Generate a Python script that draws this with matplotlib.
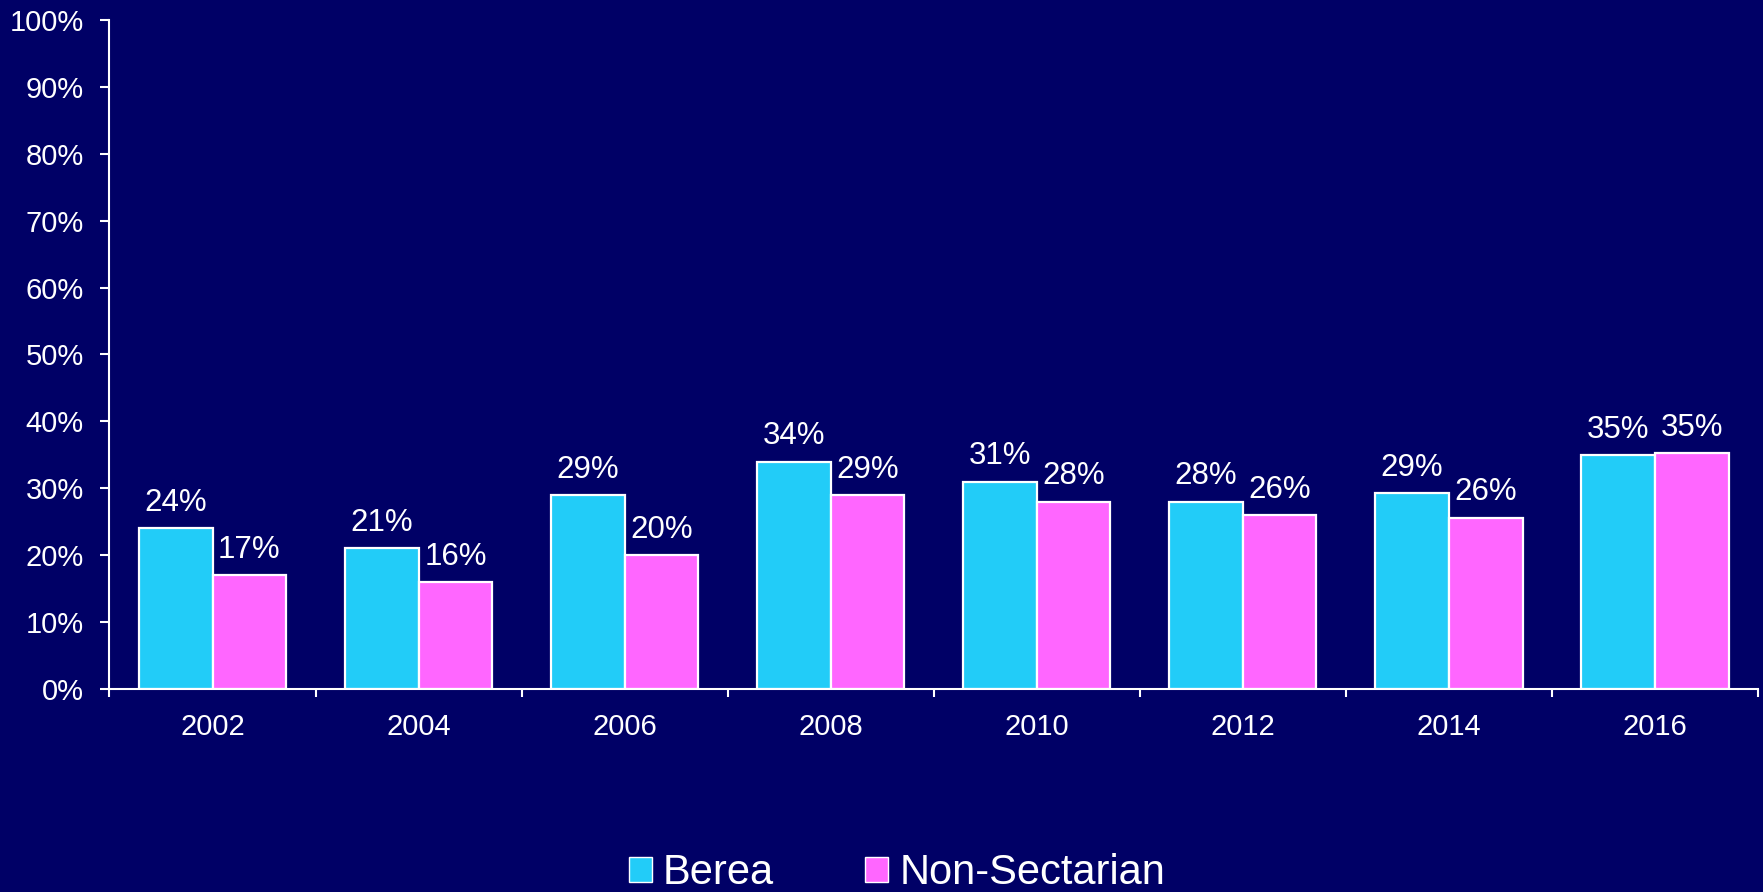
import matplotlib
matplotlib.use("Agg")
import matplotlib.pyplot as plt
from matplotlib.patches import Patch
from matplotlib.ticker import MultipleLocator, FuncFormatter
import numpy as np

plt.rcParams['font.family'] = ['Liberation Sans', 'DejaVu Sans']

years = ['2002', '2004', '2006', '2008', '2010', '2012', '2014', '2016']
berea = [24, 21, 29, 34, 31, 28, 29.3, 34.9]
non_sectarian = [17, 16, 20, 29, 28, 26, 25.6, 35.2]
berea_labels = ['24%', '21%', '29%', '34%', '31%', '28%', '29%', '35%']
non_sect_labels = ['17%', '16%', '20%', '29%', '28%', '26%', '26%', '35%']

bg = '#000066'
cyan = '#22CCF8'
pink = '#FF66FF'

fig = plt.figure(figsize=(17.63, 8.92), dpi=100, facecolor=bg)
ax = fig.add_axes([0.0621, 0.2276, 0.9351, 0.75])
ax.set_facecolor(bg)

x = np.arange(len(years))
w = 0.357
b1 = ax.bar(x - w / 2, berea, w, color=cyan, edgecolor='white', linewidth=1.6)
b2 = ax.bar(x + w / 2, non_sectarian, w, color=pink, edgecolor='white', linewidth=1.6)

for bars, labels in ((b1, berea_labels), (b2, non_sect_labels)):
    for rect, lab in zip(bars, labels):
        ax.annotate(lab, (rect.get_x() + rect.get_width() / 2, rect.get_height()),
                    xytext=(0, 12.5), textcoords='offset points',
                    ha='center', va='baseline', color='white', fontsize=22.5)

ax.set_xlim(-0.5, len(years) - 0.5)
ax.set_ylim(0, 100)
ax.yaxis.set_major_locator(MultipleLocator(10))
ax.yaxis.set_major_formatter(FuncFormatter(lambda v, p: f'{v:.0f}%'))
ax.set_xticks(x)
ax.set_xticklabels(years)
ax.set_xticks(np.arange(len(years) + 1) - 0.5, minor=True)
ax.tick_params(axis='x', which='major', length=0, pad=17, colors='white', labelsize=21)
ax.tick_params(axis='x', which='minor', length=6, width=1.5, color='white', direction='out')
ax.tick_params(axis='y', length=6.5, width=1.5, colors='white', labelsize=21, pad=12)

for s in ('top', 'right'):
    ax.spines[s].set_visible(False)
for s in ('left', 'bottom'):
    ax.spines[s].set_color('white')
    ax.spines[s].set_linewidth(1.5)

handles = [Patch(facecolor=cyan, edgecolor='white', label='Berea'),
           Patch(facecolor=pink, edgecolor='white', label='Non-Sectarian')]
leg = fig.legend(handles=handles, loc='center', bbox_to_anchor=(0.5088, 0.021),
                 ncol=2, frameon=False, fontsize=30, handlelength=0.55,
                 handleheight=0.55, handletextpad=0.26, columnspacing=2.2,
                 labelcolor='white')

fig.savefig('out.png', dpi=100, facecolor=bg)
